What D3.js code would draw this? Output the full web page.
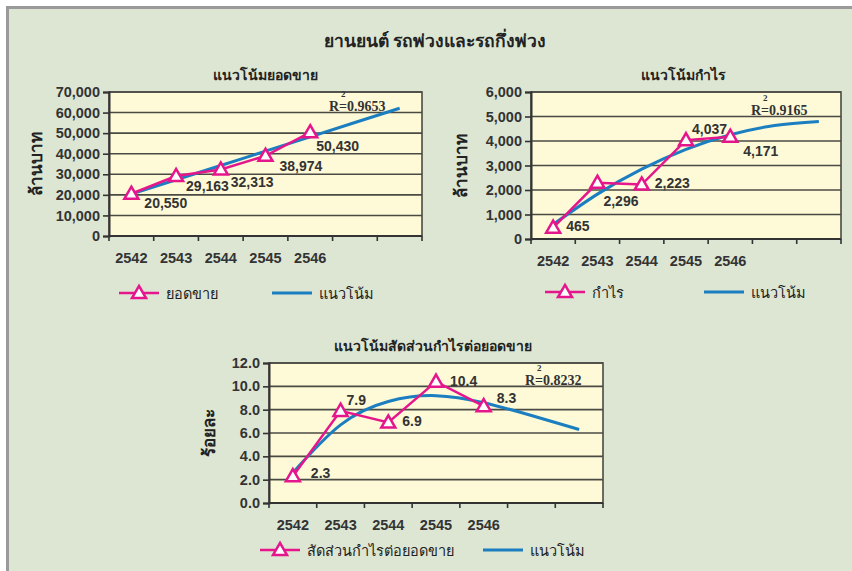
<!DOCTYPE html>
<html>
<head>
<meta charset="utf-8">
<script src="https://cdn.jsdelivr.net/npm/d3@7"></script>
<style>
  body { margin: 0; background: #fff; }
  svg text { font-family: "Liberation Sans", "Noto Sans", sans-serif; }
</style>
</head>
<body>
<svg id="chart" width="852" height="571"></svg>
<script>
// years on the x axis (7 slots, the last two only carry the trend line)
var years = ["2542", "2543", "2544", "2545", "2546", "", ""];

// sales (million baht)
var salesValues = [20550, 29163, 32313, 38974, 50430];
var salesTrend = [20370, 27330, 34290, 41240, 48200, 55160, 62110];
var salesTicks = [0, 10000, 20000, 30000, 40000, 50000, 60000, 70000];

// profit (million baht)
var profitValues = [465, 2296, 2223, 4037, 4171];
var profitTrend = [593, 1831, 2854, 3661, 4254, 4631, 4793];
var profitTicks = [0, 1000, 2000, 3000, 4000, 5000, 6000];

// profit / sales ratio (percent)
var ratioValues = [2.3, 7.9, 6.9, 10.4, 8.3];
var ratioTrend = [2.6, 6.7, 8.7, 9.2, 8.6, 7.5, 6.3];
var ratioTicks = [0, 2, 4, 6, 8, 10, 12];

var pink = "#e5168c", blue = "#1a7ec0";
var thai = "'Noto Sans', sans-serif";

var svg = d3.select("#chart");

// panel background + gray frame
svg.append("rect").attr("x", 7.5).attr("y", 7.5).attr("width", 850).attr("height", 570)
    .attr("fill", "#dce6d3").attr("stroke", "#9a9a9a").attr("stroke-width", 3);

svg.append("text").attr("x", 435).attr("y", 47).attr("text-anchor", "middle")
    .style("font-family", thai)
    .style("font-size", "17.5px").style("font-weight", "bold").attr("fill", "#222")
    .text("ยานยนต์ รถพ่วงและรถกึ่งพ่วง");

function drawChart(cfg) {
    var g = svg.append("g");
    var x = d3.scaleBand().domain(d3.range(years.length)).range([cfg.left, cfg.right]);
    var y = d3.scaleLinear().domain([0, cfg.ticks[cfg.ticks.length - 1]]).range([cfg.bottom, cfg.top]);
    var cx = function (i) { return x(i) + x.bandwidth() / 2; };

    g.append("rect").attr("x", cfg.left).attr("y", cfg.top)
        .attr("width", cfg.right - cfg.left).attr("height", cfg.bottom - cfg.top)
        .attr("fill", "#fef9d6");

    // gridlines
    g.selectAll(".grid").data(cfg.ticks.slice(1)).enter().append("line")
        .attr("x1", cfg.left).attr("x2", cfg.right)
        .attr("y1", function (d) { return y(d); }).attr("y2", function (d) { return y(d); })
        .attr("stroke", "#4a4a44").attr("stroke-width", 1.6);

    g.append("rect").attr("x", cfg.left).attr("y", cfg.top)
        .attr("width", cfg.right - cfg.left).attr("height", cfg.bottom - cfg.top)
        .attr("fill", "none").attr("stroke", "#4a4a44").attr("stroke-width", 1.6);

    // y axis
    var yAxis = g.append("g").attr("transform", "translate(" + cfg.left + ",0)")
        .call(d3.axisLeft(y).tickValues(cfg.ticks).tickFormat(cfg.fmt).tickSize(6).tickPadding(3));
    yAxis.select(".domain").attr("stroke", "#333").attr("stroke-width", 2);
    yAxis.selectAll(".tick line").attr("stroke", "#333").attr("stroke-width", 1.6);
    yAxis.selectAll("text").style("font-size", "14.5px").style("font-weight", "bold").attr("fill", "#333");

    // x axis: tick marks on band edges, labels at band centers
    var edges = d3.range(years.length + 1).map(function (i) {
        return i < years.length ? x(i) : cfg.right;
    });
    g.selectAll(".xt").data(edges).enter().append("line")
        .attr("x1", function (d) { return d; }).attr("x2", function (d) { return d; })
        .attr("y1", cfg.bottom).attr("y2", cfg.bottom + 5)
        .attr("stroke", "#333").attr("stroke-width", 1.6);
    g.append("line").attr("x1", cfg.left).attr("x2", cfg.right)
        .attr("y1", cfg.bottom).attr("y2", cfg.bottom)
        .attr("stroke", "#333").attr("stroke-width", 2);
    g.selectAll(".xl").data(years).enter().append("text")
        .attr("x", function (d, i) { return cx(i); }).attr("y", cfg.bottom + 27)
        .attr("text-anchor", "middle")
        .style("font-size", "14.5px").style("font-weight", "bold").attr("fill", "#333")
        .text(function (d) { return d; });

    // titles
    g.append("text").attr("x", cfg.titleX).attr("y", cfg.top - 12).attr("text-anchor", "middle")
        .style("font-family", thai).style("font-size", "14px").style("font-weight", "600").attr("fill", "#222")
        .text(cfg.title);
    g.append("text").attr("transform", "translate(" + cfg.yLabelX + "," + ((cfg.top + cfg.bottom) / 2) + ") rotate(-90)")
        .attr("text-anchor", "middle")
        .style("font-family", thai).style("font-size", "17px").style("font-weight", "bold").attr("fill", "#222")
        .text(cfg.yLabel);

    // trend line
    var trendLine = d3.line().x(function (d, i) { return cx(i); }).y(function (d) { return y(d); })
        .curve(d3.curveNatural);
    g.append("path").datum(cfg.trend).attr("d", trendLine)
        .attr("fill", "none").attr("stroke", blue).attr("stroke-width", 3);

    // data series
    var line = d3.line().x(function (d, i) { return cx(i); }).y(function (d) { return y(d); });
    g.append("path").datum(cfg.values).attr("d", line)
        .attr("fill", "none").attr("stroke", pink).attr("stroke-width", 2.5);

    var tri = d3.symbol().type(d3.symbolTriangle).size(85);
    g.selectAll(".pt").data(cfg.values).enter().append("path")
        .attr("d", tri)
        .attr("transform", function (d, i) { return "translate(" + cx(i) + "," + (y(d) + 1) + ")"; })
        .attr("fill", "#fff").attr("stroke", pink).attr("stroke-width", 2.5);

    g.selectAll(".lbl").data(cfg.values).enter().append("text")
        .attr("x", function (d, i) { return cx(i) + cfg.labelDx[i]; })
        .attr("y", function (d, i) { return y(d) + cfg.labelDy[i] + 5; })
        .style("font-size", "14px").style("font-weight", "bold").attr("fill", "#333")
        .text(function (d) { return cfg.fmt(d); });

    // R squared
    g.append("text").attr("x", cfg.rX).attr("y", cfg.rY + 5)
        .style("font-family", "'Liberation Serif', serif").style("font-size", "14px")
        .style("font-weight", "bold").attr("fill", "#333")
        .text("R=" + cfg.r2);
    g.append("text").attr("x", cfg.rX + 12).attr("y", cfg.rY - 9)
        .style("font-family", "'Liberation Serif', serif").style("font-size", "9px")
        .style("font-weight", "bold").attr("fill", "#333")
        .text("2");

    // legend
    var lg = g.append("g");
    lg.append("line").attr("x1", cfg.legX).attr("x2", cfg.legX + 40)
        .attr("y1", cfg.legY).attr("y2", cfg.legY).attr("stroke", pink).attr("stroke-width", 2.5);
    lg.append("path").attr("d", tri)
        .attr("transform", "translate(" + (cfg.legX + 20) + "," + (cfg.legY + 1) + ")")
        .attr("fill", "#fff").attr("stroke", pink).attr("stroke-width", 2.5);
    lg.append("text").attr("x", cfg.legX + 47).attr("y", cfg.legY + 6)
        .style("font-family", thai).style("font-size", "14.5px").style("font-weight", "500").attr("fill", "#222")
        .text(cfg.seriesName);
    lg.append("line").attr("x1", cfg.legX2).attr("x2", cfg.legX2 + 40)
        .attr("y1", cfg.legY).attr("y2", cfg.legY).attr("stroke", blue).attr("stroke-width", 3);
    lg.append("text").attr("x", cfg.legX2 + 47).attr("y", cfg.legY + 6)
        .style("font-family", thai).style("font-size", "14.5px").style("font-weight", "500").attr("fill", "#222")
        .text("แนวโน้ม");
}

drawChart({
    left: 109, right: 422, top: 92, bottom: 236,
    ticks: salesTicks, values: salesValues, trend: salesTrend,
    fmt: d3.format(","),
    title: "แนวโน้มยอดขาย", titleX: 265, yLabel: "ล้านบาท", yLabelX: 42,
    labelDx: [13, 10, 10, 14, 6], labelDy: [9, 10, 12, 10, 14],
    r2: "0.9653", rX: 329, rY: 106,
    seriesName: "ยอดขาย", legX: 119, legX2: 272, legY: 293
});

drawChart({
    left: 531, right: 841, top: 92, bottom: 239,
    ticks: profitTicks, values: profitValues, trend: profitTrend,
    fmt: d3.format(","),
    title: "แนวโน้มกำไร", titleX: 683, yLabel: "ล้านบาท", yLabelX: 467,
    labelDx: [13, 6, 13, 6, 13], labelDy: [-2, 18, -2, -11, 14],
    r2: "0.9165", rX: 751, rY: 110,
    seriesName: "กำไร", legX: 545, legX2: 704, legY: 292
});

drawChart({
    left: 269, right: 603, top: 363, bottom: 503,
    ticks: ratioTicks, values: ratioValues, trend: ratioTrend,
    fmt: d3.format(".1f"),
    title: "แนวโน้มสัดส่วนกำไรต่อยอดขาย", titleX: 433, yLabel: "ร้อยละ", yLabelX: 215,
    labelDx: [18, 6, 14, 14, 13], labelDy: [-3, -11, -2, -1, -8],
    r2: "0.8232", rX: 525, rY: 380,
    seriesName: "สัดส่วนกำไรต่อยอดขาย", legX: 260, legX2: 483, legY: 550
});
</script>
</body>
</html>
